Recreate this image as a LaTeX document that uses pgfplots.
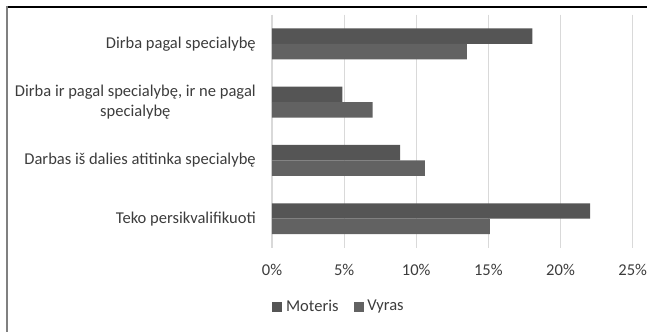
\documentclass[border=0pt]{standalone}
\usepackage{fontspec}
\setmainfont{Carlito}
\usepackage{pgfplots}
\pgfplotsset{compat=1.18}
\definecolor{mot}{HTML}{555555}
\definecolor{vyr}{HTML}{626262}
\definecolor{txt}{HTML}{3C3C3C}
\definecolor{grd}{HTML}{D9D9D9}
\begin{document}
\begin{tikzpicture}
\useasboundingbox (0,0) rectangle (492.75pt,-249pt);
\draw[black, line width=1.1pt] (4.5pt,-5.4pt) -- (485.25pt,-5.4pt);
\draw[gray, line width=1.4pt] (5.4pt,-4.5pt) -- (5.4pt,-249pt);
\begin{axis}[
  at={(204pt,-185.89pt)}, anchor=south west,
  scale only axis, width=270.5pt, height=174.9pt,
  xmin=0, xmax=25, ymin=-0.5, ymax=3.5, y dir=reverse,
  enlargelimits=false,
  xbar, bar width=0.265,
  axis line style={draw=none},
  major tick length=0pt,
  xmajorgrids, grid style={grd, line width=0.8pt},
  xtick={0,5,10,15,20,25},
  xticklabel={\pgfmathprintnumber{\tick}\%},
  /pgf/number format/assume math mode=true,
  ytick={0,1,2,3},
  yticklabels={Dirba pagal specialybę,{Dirba ir pagal specialybę, ir ne pagal\\specialybę},Darbas iš dalies atitinka specialybę,Teko persikvalifikuoti},
  tick label style={font=\fontsize{12.4}{14.4}\selectfont, text=txt, inner sep=0pt},
  y tick label style={align=center},
  xticklabel shift=12.3pt,
  yticklabel shift=12pt,
  legend columns=2,
  legend style={at={(0.183,-0.252)}, anchor=center, draw=none, fill=none,
    inner sep=0pt, font=\fontsize{12.4}{14.4}\selectfont, text=txt,
    nodes={inner sep=0pt},
    /tikz/every odd column/.append style={column sep=2.8pt},
    /tikz/every even column/.append style={column sep=11.25pt}},
  legend image code/.code={\fill[#1] (0pt,-3.75pt) rectangle (7.5pt,3.75pt);},
]
\addplot[fill=mot, draw=none, bar shift=-0.1325] coordinates {(18.05,0) (4.88,1) (8.88,2) (22.05,3)};
\addplot[fill=vyr, draw=none, bar shift=0.1325] coordinates {(13.5,0) (6.98,1) (10.6,2) (15.1,3)};
\legend{Moteris,Vyras}
\end{axis}
\end{tikzpicture}
\end{document}
